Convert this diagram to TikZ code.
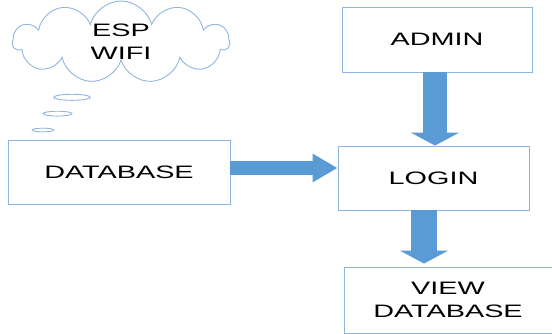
\documentclass[tikz,border=0pt]{standalone}
\usepackage{fontspec}
\setmainfont[FakeStretch=1.6]{Liberation Sans}
\usetikzlibrary{arrows.meta,positioning,shapes.symbols,shapes.callouts}
\definecolor{edgeblue}{RGB}{143,180,224}
\definecolor{flowblue}{RGB}{91,155,213}
\tikzset{
  box/.style={draw=edgeblue,line width=0.9pt,fill=white,inner sep=0pt,
    align=center,font=\fontsize{18}{23}\selectfont},
  flow/.style={draw=flowblue,line width=#1,
    -{Triangle[width=48pt,length=13pt]}},
  flow/.default=24pt
}

\begin{document}
\begin{tikzpicture}[x=1pt,y=-1pt]
  \useasboundingbox (0,0) rectangle (552,334);
  % thought cloud
  \node[cloud callout,draw=edgeblue,line width=0.9pt,cloud puffs=11,inner sep=0pt,
    minimum width=217pt,minimum height=82pt,aspect=2.6,
    callout absolute pointer={(43,130)},callout pointer segments=3] (esp) at (121,42) {};
  \node[align=center,font=\fontsize{18}{23}\selectfont] (wifi) at (esp.center) {ESP\\WIFI};
  % boxes
  \node[box,minimum width=190pt,minimum height=65pt] (admin) at (437,39.5) {ADMIN};
  \node[box,minimum width=191pt,minimum height=64pt] (login) at (433.5,178) {LOGIN};
  \node[box,minimum width=208pt,minimum height=66pt] (view) at (448,300) {VIEW\\DATABASE};
  \node[box,minimum width=222pt,minimum height=64pt] (db) at (119,172) {DATABASE};
  % block arrows
  \draw[flow] ([xshift=-2pt]admin.south) -- ([xshift=-2pt]admin.south |- login.north);
  \draw[flow=26pt] ([xshift=-9.5pt]login.south) -- ([xshift=-9.5pt,yshift=3pt]login.south |- view.north);
  \draw[flow=14pt,-{Triangle[width=27pt,length=25pt]}] ([yshift=4pt]db.east) -- ([yshift=4pt]db.east -| login.west);
\end{tikzpicture}
\end{document}
